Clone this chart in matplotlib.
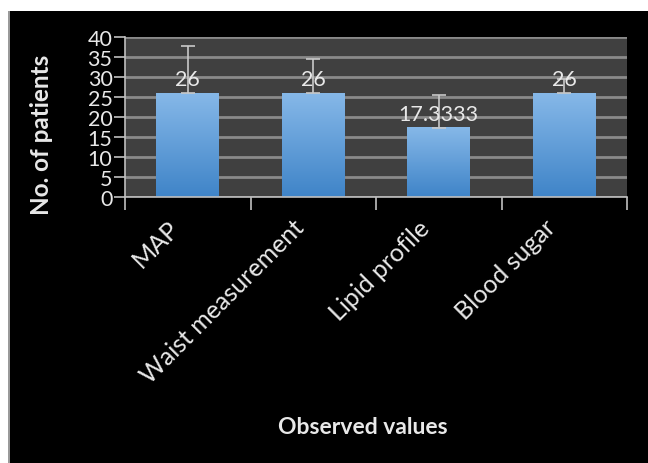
import numpy as np
import matplotlib.pyplot as plt

categories = ['MAP', 'Waist measurement', 'Lipid profile', 'Blood sugar']
values = [26, 26, 17.3333, 26]
value_labels = ['26', '26', '17.3333', '26']
errors_up = [11.7, 8.5, 8.2, 3.5]
yticks = [0, 5, 10, 15, 20, 25, 30, 35, 40]

plt.rcParams['font.family'] = ['Lato', 'DejaVu Sans']

fig = plt.figure(figsize=(6.48, 4.64), dpi=100)
fig.patch.set_facecolor('white')
# black panel with a thin gray left border
fig.patches.append(plt.Rectangle((9 / 648, 0), 1, 1 - 12 / 464, transform=fig.transFigure,
                                 facecolor='black', edgecolor='none', zorder=-2))
fig.patches.append(plt.Rectangle((8 / 648, 0), 1.5 / 648, 1 - 12 / 464, transform=fig.transFigure,
                                 facecolor='#9a9a9a', edgecolor='none', zorder=-1))

ax = fig.add_axes([125 / 648, 1 - 198 / 464, 502 / 648, 160 / 464])
ax.set_facecolor('#404040')

x = np.arange(len(categories))
width = 0.5

# bars with a vertical blue gradient
grad = np.linspace(0, 1, 256).reshape(-1, 1)
cmap = plt.matplotlib.colors.LinearSegmentedColormap.from_list('bar', ['#3f84c8', '#86b8e8'])
for xi, v in zip(x, values):
    ax.imshow(grad, extent=(xi - width / 2, xi + width / 2, 0, v), origin='lower',
              cmap=cmap, aspect='auto', zorder=2)

ax.errorbar(x, values, yerr=[[0] * len(values), errors_up], fmt='none',
            ecolor='#c8c8c8', elinewidth=1.2, capsize=5, capthick=1.2, zorder=3)

for xi, v, lab in zip(x, values, value_labels):
    ax.text(xi, v + 1.0, lab, ha='center', va='bottom', color='#e8e8e8',
            fontsize=15.5, zorder=4)

ax.set_xlim(-0.5, len(categories) - 0.5)
ax.set_ylim(0, 40)
ax.set_yticks(yticks)
ax.set_yticklabels([str(t) for t in yticks], color='#e8e8e8', fontsize=15.5)
ax.yaxis.grid(True, color='#8a8a8a', linewidth=2)
ax.set_axisbelow(True)
ax.tick_params(axis='y', length=8, width=1.2, color='#bfbfbf', pad=1)

# category boundary ticks
ax.set_xticks(np.arange(len(categories) + 1) - 0.5)
ax.set_xticklabels([])
ax.tick_params(axis='x', length=9, width=1.2, color='#bfbfbf')
for xi, cat in zip(x, categories):
    ax.annotate(cat, xy=(xi, 0), xycoords=('data', 'axes fraction'),
                xytext=(-9, -19), textcoords='offset points',
                rotation=45, ha='right', va='center', rotation_mode='anchor',
                color='#e8e8e8', fontsize=18, annotation_clip=False)

for side in ['top', 'right']:
    ax.spines[side].set_visible(False)
ax.spines['left'].set_color('#bfbfbf')
ax.spines['bottom'].set_color('#bfbfbf')
ax.spines['left'].set_linewidth(1.2)
ax.spines['bottom'].set_linewidth(1.2)

fig.text(42 / 648, 1 - 135 / 464, 'No. of patients', rotation=90, ha='center', va='center',
         color='#e8e8e8', fontsize=17.5, fontweight='bold')
fig.text(363 / 648, 1 - 428 / 464, 'Observed values', ha='center', va='center',
         color='#e8e8e8', fontsize=16.5, fontweight='bold')

fig.savefig('out.png', dpi=100, facecolor=fig.get_facecolor())
